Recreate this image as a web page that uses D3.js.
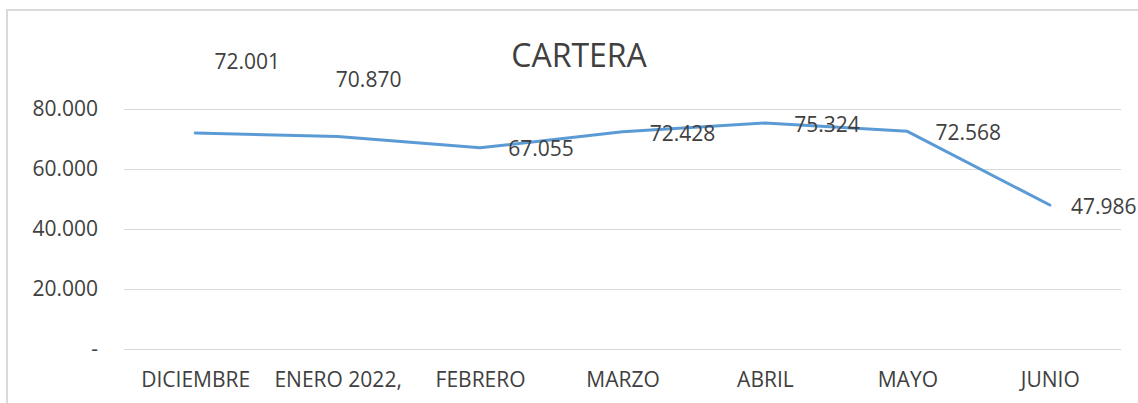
<!DOCTYPE html>
<html>
<head>
<meta charset="utf-8">
<script src="https://cdn.jsdelivr.net/npm/d3@7"></script>
<style>
  body { margin: 0; background: #fff; }
  text { font-family: "Open Sans", sans-serif; fill: #404040; }
</style>
</head>
<body>
<div id="chart"></div>
<script>
// Donnees du graphique
const meses = ["DICIEMBRE", "ENERO 2022,", "FEBRERO", "MARZO", "ABRIL", "MAYO", "JUNIO"];
const cartera = [72001, 70870, 67055, 72428, 75324, 72568, 47986];
const ticksY = [0, 20000, 40000, 60000, 80000];
const titulo = "CARTERA";

// decalage des etiquettes (deplacees a la main dans l'original)
const etiqDx = [52, 31, 61, 60, 62, 61, 54];
const etiqDy = [-64, -49, 8, 9, 9, 9, 9];

const W = 1138, H = 403;
const plot = {left: 124, right: 1121, top: 109, bottom: 349};

const svg = d3.select("#chart")
    .append("svg")
    .attr("width", W)
    .attr("height", H);

// cadre du graphique
svg.append("rect")
    .attr("x", 7).attr("y", 10)
    .attr("width", W + 10).attr("height", H + 10)
    .attr("fill", "#fff")
    .attr("stroke", "#d9d9d9")
    .attr("stroke-width", 2);

// titre
svg.append("text")
    .attr("x", 579).attr("y", 67)
    .attr("text-anchor", "middle")
    .style("font-size", "32px")
    .text(titulo);

const x = d3.scalePoint()
    .domain(meses)
    .range([plot.left, plot.right])
    .padding(0.5);

const y = d3.scaleLinear()
    .domain([0, 80000])
    .range([plot.bottom, plot.top]);

const loc = d3.formatLocale({decimal: ",", thousands: ".", grouping: [3], currency: ["$", ""]});
const fmt = loc.format(",d");

// Axe Y avec les lignes de grille
const gy = svg.append("g")
    .attr("transform", `translate(${plot.left},0)`)
    .call(d3.axisLeft(y)
        .tickValues(ticksY)
        .tickSize(-(plot.right - plot.left))
        .tickPadding(26)
        .tickFormat(d => d === 0 ? "-" : fmt(d)));
gy.select(".domain").remove();
gy.selectAll(".tick line").attr("stroke", "#d9d9d9").attr("stroke-width", 1.2);
gy.selectAll(".tick text")
    .style("font-size", "21px")
    .attr("fill", "#404040");

// Axe X
const gx = svg.append("g")
    .attr("transform", `translate(0,${plot.bottom})`)
    .call(d3.axisBottom(x).tickSize(0).tickPadding(23));
gx.select(".domain").remove();
gx.selectAll(".tick text")
    .style("font-size", "21px")
    .attr("fill", "#404040");

// la ligne
const line = d3.line()
    .x((d, i) => x(meses[i]))
    .y(d => y(d));

svg.append("path")
    .datum(cartera)
    .attr("fill", "none")
    .attr("stroke", "#5b9bd5")
    .attr("stroke-width", 3)
    .attr("stroke-linejoin", "round")
    .attr("stroke-linecap", "round")
    .attr("d", line);

// etiquettes de valeurs
svg.selectAll(".etiq")
    .data(cartera)
    .join("text")
    .attr("class", "etiq")
    .attr("x", (d, i) => x(meses[i]) + etiqDx[i])
    .attr("y", (d, i) => y(d) + etiqDy[i])
    .attr("text-anchor", "middle")
    .style("font-size", "21px")
    .text(d => fmt(d));
</script>
</body>
</html>
